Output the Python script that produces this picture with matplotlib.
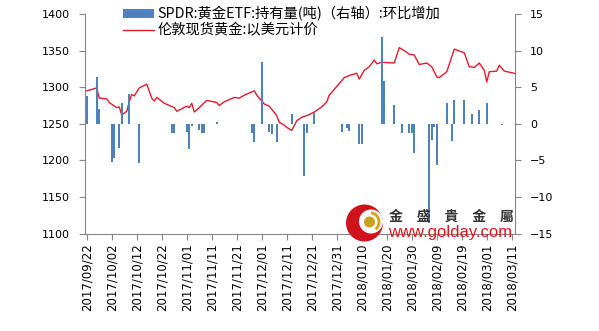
import matplotlib
matplotlib.use("Agg")
import matplotlib.pyplot as plt
import matplotlib.dates as mdates
from matplotlib.lines import Line2D
from matplotlib.patches import Patch, Circle, Wedge
import pandas as pd

# London spot gold, USD
gold_dates = [
    "2017-09-22", "2017-09-26", "2017-09-27", "2017-09-30", "2017-10-01",
    "2017-10-04", "2017-10-05", "2017-10-06", "2017-10-08", "2017-10-09",
    "2017-10-10", "2017-10-11", "2017-10-13", "2017-10-16", "2017-10-18",
    "2017-10-19", "2017-10-20", "2017-10-23", "2017-10-27", "2017-10-28",
    "2017-11-01", "2017-11-02", "2017-11-03", "2017-11-04", "2017-11-06",
    "2017-11-09", "2017-11-13", "2017-11-14", "2017-11-16", "2017-11-20",
    "2017-11-22", "2017-11-24", "2017-11-28", "2017-11-29", "2017-12-02",
    "2017-12-04", "2017-12-07", "2017-12-08", "2017-12-10", "2017-12-11",
    "2017-12-13", "2017-12-15", "2017-12-17", "2017-12-19", "2017-12-22",
    "2017-12-25", "2017-12-27", "2017-12-28", "2017-12-31", "2018-01-03",
    "2018-01-05", "2018-01-08", "2018-01-09", "2018-01-11", "2018-01-13",
    "2018-01-15", "2018-01-16", "2018-01-18", "2018-01-23", "2018-01-25",
    "2018-01-27", "2018-01-29", "2018-01-31", "2018-02-02", "2018-02-05",
    "2018-02-07", "2018-02-09", "2018-02-10", "2018-02-13", "2018-02-16",
    "2018-02-20", "2018-02-22", "2018-02-24", "2018-02-26", "2018-02-28",
    "2018-03-01", "2018-03-02", "2018-03-05", "2018-03-06", "2018-03-08",
    "2018-03-12",
]
gold_price = [
    1295, 1299, 1285, 1284, 1279,
    1272, 1273, 1262, 1267, 1280,
    1290, 1288, 1299, 1304, 1285,
    1281, 1286, 1278, 1272, 1267,
    1274, 1272, 1278, 1266, 1272,
    1282, 1279, 1275, 1280, 1286,
    1285, 1289, 1295, 1289, 1277,
    1274, 1261, 1252, 1248, 1245,
    1241, 1254, 1259, 1261, 1266,
    1273, 1280, 1289, 1301, 1313,
    1316, 1319, 1311, 1323, 1328,
    1337, 1332, 1334, 1333, 1354,
    1350, 1345, 1344, 1331, 1333,
    1328, 1314, 1313, 1321, 1352,
    1347, 1328, 1327, 1333, 1323,
    1307, 1321, 1322, 1330, 1322,
    1319,
]

# SPDR gold ETF holdings, day-on-day change (tonnes)
etf_dates = [
    "2017-09-22", "2017-09-26", "2017-09-27", "2017-10-02", "2017-10-03",
    "2017-10-05", "2017-10-06", "2017-10-09", "2017-10-13", "2017-10-26",
    "2017-10-27", "2017-11-01", "2017-11-02", "2017-11-03", "2017-11-06",
    "2017-11-07", "2017-11-08", "2017-11-13", "2017-11-27", "2017-11-28",
    "2017-12-01", "2017-12-04", "2017-12-05", "2017-12-07", "2017-12-13",
    "2017-12-18", "2017-12-19", "2017-12-22", "2018-01-02", "2018-01-04",
    "2018-01-05", "2018-01-09", "2018-01-10", "2018-01-18", "2018-01-19",
    "2018-01-23", "2018-01-26", "2018-01-29", "2018-01-30", "2018-01-31",
    "2018-02-06", "2018-02-07", "2018-02-08", "2018-02-09", "2018-02-13",
    "2018-02-15", "2018-02-16", "2018-02-20", "2018-02-23", "2018-02-26",
    "2018-03-01", "2018-03-07",
]
etf_change = [
    3.8, 6.4, 2.0, -5.2, -4.7,
    -3.3, 2.8, 4.0, -5.3, -1.2,
    -1.2, -1.1, -3.4, -0.3, -0.8,
    -1.2, -1.2, 0.2, -1.2, -2.5,
    8.5, -1.1, -1.4, -2.5, 1.4,
    -7.1, -1.3, 1.5, -1.1, -0.6,
    -1.0, -2.8, -2.8, 11.8, 5.9,
    2.6, -1.2, -1.3, -1.2, -4.0,
    -13.5, -2.2, -0.5, -5.6, 2.9,
    -2.3, 3.2, 3.2, 1.4, 1.9,
    2.9, -0.2,
]

tick_dates = pd.date_range("2017-09-22", "2018-03-11", freq="10D")
left_ticks = [1100, 1150, 1200, 1250, 1300, 1350, 1400]
right_ticks = [-15, -10, -5, 0, 5, 10, 15]

bar_label = "SPDR:黄金ETF:持有量(吨)（右轴）:环比增加"
line_label = "伦敦现货黄金:以美元计价"

BLUE = "#4f81bd"
RED = "#e8192e"
GREY = "#868686"
CJK = ["Noto Sans CJK SC", "DejaVu Sans"]

W, H = 599, 331
fig = plt.figure(figsize=(W / 100, H / 100), dpi=100)
ax = fig.add_axes([85 / W, 1 - 233.5 / H, (515 - 85) / W, (233.5 - 14) / H])
ax2 = ax.twinx()

gx = mdates.date2num(pd.to_datetime(gold_dates))
bx = mdates.date2num(pd.to_datetime(etf_dates))

ax.plot(gx, gold_price, color=RED, lw=1.0)
ax2.bar(bx, etf_change, width=0.75, color=BLUE, linewidth=0)

x0 = mdates.date2num(pd.Timestamp("2017-09-22"))
ax.set_xlim(x0 - 0.7, x0 + 171.3)
ax.set_ylim(1100, 1400)
ax2.set_ylim(-15, 15)

ax.set_xticks(mdates.date2num(tick_dates))
ax.set_xticklabels([d.strftime("%Y/%m/%d") for d in tick_dates], rotation=90)
ax.set_yticks(left_ticks)
ax2.set_yticks(right_ticks)

for a in (ax, ax2):
    a.spines["top"].set_visible(False)
    for s in a.spines.values():
        s.set_color(GREY)
        s.set_linewidth(0.8)
ax.spines["right"].set_visible(False)
ax2.spines["left"].set_visible(False)
ax2.spines["bottom"].set_visible(False)

ax.tick_params(axis="y", direction="out", length=4, width=0.8, color=GREY,
               pad=7, labelsize=8)
ax.tick_params(axis="x", direction="out", length=4, width=0.8, color=GREY,
               pad=3, labelsize=8.5)
ax2.tick_params(axis="y", direction="out", length=4, width=0.8, color=GREY,
                pad=7, labelsize=8)

handles = [Patch(facecolor=BLUE, edgecolor="none"),
           Line2D([], [], color=RED, lw=1.0)]
ax2.legend(handles, [bar_label, line_label], loc="upper left",
           bbox_to_anchor=(123 / W, 1 - 6 / H), bbox_transform=fig.transFigure,
           frameon=False, borderpad=0, borderaxespad=0, handlelength=2.2,
           handleheight=0.6, handletextpad=0.2, labelspacing=0.15,
           prop={"family": CJK, "size": 10.3})

# company mark in the lower right corner
px = fig.dpi_scale_trans
def at(x, y):
    return (x / 100, (H - y) / 100)

fig.patches.append(Circle(at(364.5, 223), 0.185, transform=px,
                          facecolor="#d1111b", edgecolor="none"))
fig.patches.append(Circle(at(371, 221.5), 0.12, transform=px,
                          facecolor="white", edgecolor="none"))
fig.patches.append(Wedge(at(369.5, 222), 0.11, -50, 80, width=0.03,
                         transform=px, facecolor="#d9a521", edgecolor="none"))
fig.patches.append(Circle(at(369.5, 222), 0.055, transform=px,
                          facecolor="#caa01c", edgecolor="none"))

fig.text(389 / W, 1 - 217 / H, "金\u3000盛\u3000貴\u3000金\u3000屬",
         ha="left", va="center", fontsize=10, color="#333333",
         family=["Noto Sans CJK TC", "DejaVu Sans"], fontweight="bold")
fig.text(388 / W, 1 - 233 / H, "www.golday.com", ha="left", va="center",
         fontsize=12, color="#e5141b", family="Liberation Sans")

fig.savefig("out.png", dpi=100)
